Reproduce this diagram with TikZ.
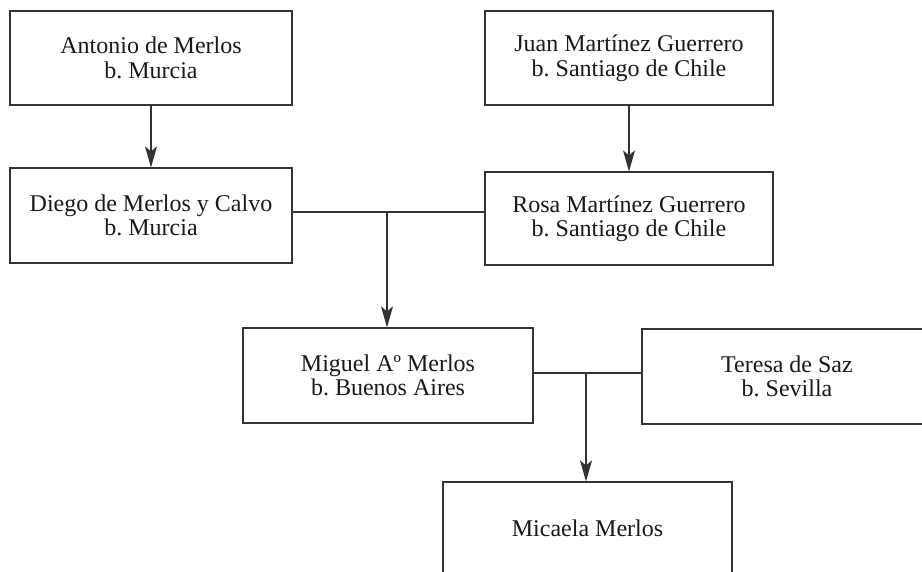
\documentclass[tikz,border=0pt]{standalone}
\usepackage{fontspec}
\setmainfont{Liberation Serif}
\usetikzlibrary{arrows.meta}
\frenchspacing
\tikzset{
  person/.style={draw=black!80, line width=1.2pt, rectangle, inner sep=0pt,
    align=center, text=black!90, font=\fontsize{24}{24.5}\selectfont},
  link/.style={draw=black!80, line width=1.2pt},
  descent/.style={link, -{Stealth[length=21pt,width=12pt,inset=5pt]}}
}
\begin{document}
\begin{tikzpicture}[x=1pt,y=-1pt]
\useasboundingbox (0,0) rectangle (922,572);
\clip (0,0) rectangle (922,572);
\node[person, minimum width=282pt, minimum height=94pt] (antonio) at (151,58) {Antonio de Merlos\\b. Murcia};
\node[person, minimum width=288pt, minimum height=94pt] (juan) at (629,58) {Juan Martínez Guerrero\\b. Santiago de Chile};
\node[person, minimum width=282pt, minimum height=95pt] (diego) at (151,215.5) {Diego de Merlos y Calvo\\b. Murcia};
\node[person, minimum width=288pt, minimum height=93pt] (rosa) at (629,218.5) {Rosa Martínez Guerrero\\b. Santiago de Chile};
\node[person, minimum width=290pt, minimum height=95pt] (miguel) at (388,375.5) {Miguel Aº Merlos\\b. Buenos Aires};
\node[person, minimum width=290pt, minimum height=95pt] (teresa) at (787,376.5) {Teresa de Saz\\b. Sevilla};
\node[person, minimum width=289pt, minimum height=92pt] (micaela) at (587.5,528) {Micaela Merlos};
\coordinate (m1) at (387,212);
\coordinate (m2) at (586,373);
\draw[descent] (antonio.south) -- (diego.north);
\draw[descent] (juan.south) -- (rosa.north);
\draw[link] (diego.east |- m1) -- (rosa.west |- m1);
\draw[descent] (m1) -- (m1 |- miguel.north);
\draw[link] (miguel.east |- m2) -- (teresa.west |- m2);
\draw[descent] (m2) -- (m2 |- micaela.north);
\end{tikzpicture}
\end{document}
